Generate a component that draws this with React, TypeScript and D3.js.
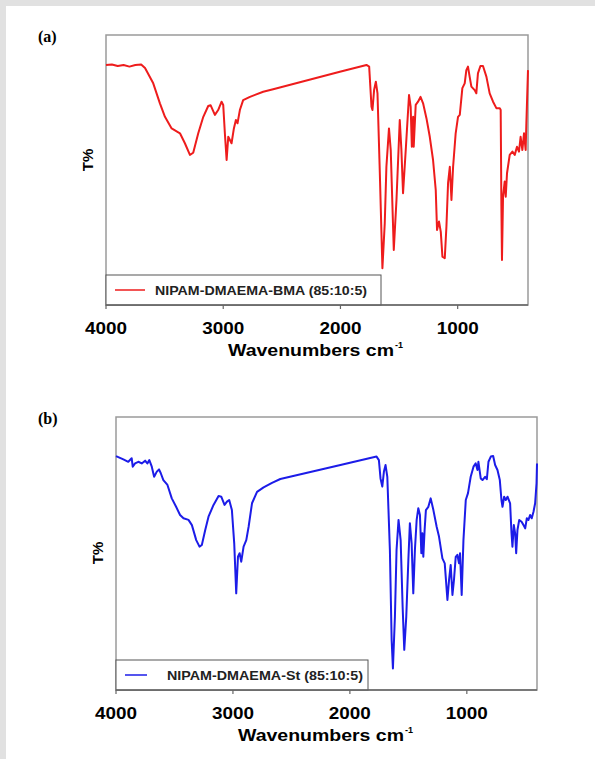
import React from "react";
import * as d3 from "d3";

// x axis ticks (wavenumbers, cm-1)
const tickValues = [4000, 3000, 2000, 1000];

// series names
const seriesA = "NIPAM-DMAEMA-BMA (85:10:5)";
const seriesB = "NIPAM-DMAEMA-St (85:10:5)";

// [wavenumber, T% (relative)]
const bmaSpectrum: [number, number][] = [
  [4000, 88.9], [3950, 89.1], [3900, 88.5], [3850, 88.9], [3800, 88.3], [3750, 88.9], [3700, 89.1],
  [3667, 87.8], [3597, 82.1], [3540, 74.7], [3497, 69.7], [3440, 65.4], [3369, 63.6], [3327, 59.9],
  [3284, 55.6], [3256, 56.4], [3213, 63.6], [3170, 69.7], [3128, 73.7], [3108, 74.0], [3071, 70.4],
  [3043, 72.2], [3014, 75.3], [3000, 74.1], [2986, 63.6], [2971, 53.7], [2957, 62.3], [2943, 61.1],
  [2929, 59.9], [2909, 65.4], [2892, 68.5], [2878, 67.3], [2858, 72.2], [2830, 75.9], [2772, 77.1],
  [2659, 79.0], [2574, 79.9], [2005, 86.4], [1778, 88.9], [1755, 88.3], [1735, 73.4], [1727, 72.2],
  [1713, 79.6], [1698, 82.7], [1684, 78.4], [1664, 48.8], [1642, 13.6], [1622, 30.3], [1608, 51.2],
  [1586, 65.4], [1571, 57.4], [1545, 20.4], [1522, 38.9], [1494, 68.5], [1480, 57.4], [1466, 41.4],
  [1443, 57.4], [1415, 77.8], [1401, 73.4], [1391, 58.6], [1380, 69.7], [1375, 58.6], [1358, 74.1],
  [1338, 75.3], [1317, 77.1], [1295, 74.7], [1266, 69.1], [1238, 62.3], [1210, 53.7], [1187, 42.6],
  [1176, 27.8], [1159, 30.9], [1144, 27.1], [1130, 17.9], [1110, 17.3], [1096, 29.0], [1082, 45.1],
  [1067, 51.2], [1053, 38.9], [1039, 51.2], [1017, 63.6], [997, 69.7], [982, 70.4], [960, 80.3],
  [940, 82.1], [926, 87.0], [912, 88.3], [898, 84.6], [883, 80.9], [855, 79.6], [841, 78.4],
  [827, 85.8], [806, 88.5], [784, 88.5], [755, 84.6], [727, 78.4], [698, 75.3], [670, 72.9],
  [641, 72.9], [633, 72.2], [627, 36.4], [622, 16.7], [613, 40.1], [599, 45.7], [590, 40.1],
  [579, 48.8], [556, 55.6], [533, 56.8], [513, 55.6], [494, 58.6], [477, 56.8], [463, 62.3],
  [448, 57.4], [434, 63.6], [420, 57.4], [414, 67.3], [400, 87.0],
];

const stSpectrum: [number, number][] = [
  [4000, 85.7], [3937, 84.5], [3895, 83.6], [3866, 84.9], [3857, 81.8], [3837, 83.0], [3809, 83.6],
  [3780, 83.0], [3751, 84.0], [3732, 83.0], [3715, 84.2], [3694, 81.8], [3674, 78.1], [3651, 80.0],
  [3632, 80.8], [3617, 79.4], [3595, 76.9], [3560, 75.1], [3523, 70.2], [3486, 67.1], [3452, 64.1],
  [3423, 62.9], [3380, 62.3], [3351, 60.4], [3314, 54.9], [3286, 52.5], [3266, 53.1], [3237, 58.6],
  [3209, 63.5], [3166, 67.8], [3123, 71.1], [3100, 70.8], [3072, 67.8], [3051, 69.0], [3032, 69.6],
  [3009, 65.9], [2989, 53.7], [2972, 35.4], [2957, 48.8], [2943, 50.1], [2929, 47.0], [2909, 52.5],
  [2886, 54.9], [2866, 59.8], [2837, 68.4], [2794, 72.6], [2738, 74.2], [2666, 75.9], [2595, 77.3],
  [2081, 82.4], [1772, 85.5], [1752, 84.2], [1738, 77.5], [1723, 74.5], [1709, 80.0], [1695, 82.4],
  [1680, 78.1], [1658, 51.3], [1643, 18.3], [1632, 7.9], [1615, 26.8], [1601, 51.3], [1584, 62.3],
  [1566, 54.9], [1549, 30.5], [1535, 14.7], [1518, 26.8], [1500, 47.6], [1487, 61.1], [1472, 53.7],
  [1458, 35.4], [1444, 51.3], [1429, 62.3], [1415, 66.6], [1401, 64.1], [1389, 50.1], [1380, 57.4],
  [1372, 48.8], [1361, 58.6], [1350, 65.9], [1329, 67.1], [1309, 70.2], [1286, 65.9], [1258, 59.8],
  [1238, 56.2], [1209, 48.2], [1189, 46.4], [1166, 33.0], [1152, 40.3], [1138, 45.8], [1123, 34.8],
  [1110, 40.3], [1095, 48.8], [1081, 49.5], [1067, 46.4], [1058, 50.1], [1044, 34.8], [1029, 54.9],
  [1009, 69.6], [990, 72.1], [967, 78.1], [943, 81.8], [924, 83.0], [909, 80.6], [901, 83.6],
  [881, 77.5], [866, 76.9], [844, 78.1], [829, 77.2], [815, 83.6], [795, 85.5], [775, 85.7],
  [758, 82.4], [738, 80.6], [718, 76.9], [704, 69.6], [695, 67.1], [681, 70.8], [667, 69.6],
  [652, 70.8], [630, 68.4], [618, 57.4], [610, 52.5], [598, 60.4], [587, 57.4], [578, 50.1],
  [567, 58.6], [552, 62.3], [532, 61.6], [515, 60.4], [501, 59.2], [487, 62.9], [473, 62.3],
  [459, 64.1], [445, 62.9], [430, 65.3], [416, 68.4], [404, 75.7], [400, 83.0],
];

const sans = "'Liberation Sans', Arial, sans-serif";

function Panel(props: any) {
  const { tag, left, top, right, bottom, data, color, legend, legendRight, legendLine, legendTextX, legendTextW, yLabelX, yLabelY } = props;

  const x = d3.scaleLinear().domain([4000, 400]).range([left, right]);
  const y = d3.scaleLinear().domain([0, 100]).range([bottom, top]);

  const line = d3
    .line<[number, number]>()
    .x((d) => x(d[0]))
    .y((d) => y(d[1]));

  const legendTop = bottom - 30;
  const legendMid = legendTop + 15;

  return (
    <g>
      {/* panel tag */}
      <text x={38} y={top + 7} fontFamily="'Liberation Serif', 'Times New Roman', serif" fontWeight="bold" fontSize={16}>
        {tag}
      </text>

      {/* frame */}
      <rect x={left} y={top} width={right - left} height={bottom - top} fill="none" stroke="#9a9a9a" strokeWidth={1.5} />

      {/* spectrum */}
      <path d={line(data) || ""} fill="none" stroke={color} strokeWidth={2} strokeLinejoin="round" />

      {/* legend */}
      <rect x={left} y={legendTop} width={legendRight - left} height={bottom - legendTop} fill="#fff" stroke="#555" strokeWidth={1} />
      <line x1={legendLine[0]} x2={legendLine[1]} y1={legendMid} y2={legendMid} stroke={color} strokeWidth={1.5} />
      <text x={legendTextX} y={legendMid + 5} fontFamily={sans} fontWeight="bold" fontSize={13.5} fill="#222"
        textLength={legendTextW} lengthAdjust="spacingAndGlyphs">
        {legend}
      </text>

      {/* bottom axis */}
      <line x1={left} x2={right} y1={bottom} y2={bottom} stroke="#666" strokeWidth={1.5} />
      {tickValues.map((t) => (
        <g key={t}>
          <line x1={x(t)} x2={x(t)} y1={bottom} y2={bottom + 4} stroke="#666" strokeWidth={1.2} />
          <text x={x(t) - 21} y={bottom + 29} fontFamily={sans} fontWeight="bold" fontSize={16}
            textLength={42} lengthAdjust="spacingAndGlyphs">
            {t}
          </text>
        </g>
      ))}

      {/* axis titles */}
      <text x={left + 122} y={bottom + 51} fontFamily={sans} fontWeight="bold" fontSize={16}
        textLength={166} lengthAdjust="spacingAndGlyphs">
        Wavenumbers cm
      </text>
      <text x={left + 289} y={bottom + 43} fontFamily={sans} fontWeight="bold" fontSize={9}>
        -1
      </text>
      <text transform={`translate(${yLabelX},${yLabelY}) rotate(-90)`} textAnchor="middle" fontFamily={sans}
        fontWeight="bold" fontSize={15}>
        T%
      </text>
    </g>
  );
}

export default function App() {
  return (
    <div style={{ position: "absolute", left: 0, top: 0 }}>
      <svg width={595} height={759} style={{ display: "block" }}>
        <rect x={0} y={0} width={595} height={759} fill="#e1e1e1" />
        <rect x={6} y={6} width={589} height={753} fill="#fff" />
        <Panel
          tag="(a)"
          left={106}
          top={35}
          right={528}
          bottom={305}
          data={bmaSpectrum}
          color="#ee1c1c"
          legend={seriesA}
          legendRight={381}
          legendLine={[115, 145]}
          legendTextX={155}
          legendTextW={212}
          yLabelX={93}
          yLabelY={160}
        />
        <Panel
          tag="(b)"
          left={116}
          top={417}
          right={537}
          bottom={690}
          data={stSpectrum}
          color="#1c1ce8"
          legend={seriesB}
          legendRight={368}
          legendLine={[125, 147]}
          legendTextX={167}
          legendTextW={196}
          yLabelX={103}
          yLabelY={553}
        />
      </svg>
    </div>
  );
}
